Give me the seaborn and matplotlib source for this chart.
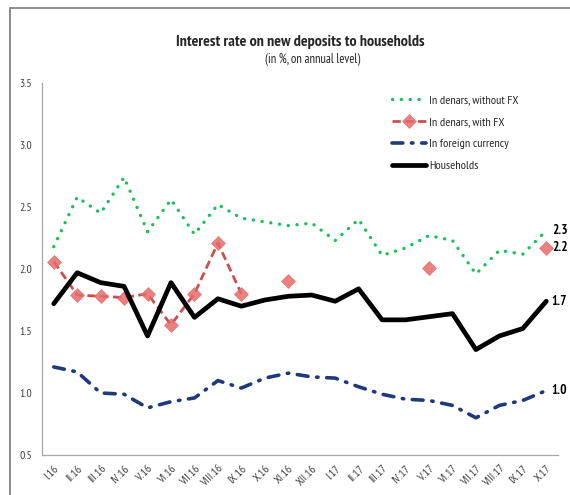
import numpy as np
import pandas as pd
import matplotlib
matplotlib.use("Agg")
import matplotlib.pyplot as plt
from matplotlib.lines import Line2D
import seaborn as sns

# data
months = ["I.16", "II.16", "III.16", "IV.16", "V.16", "VI.16", "VII.16", "VIII.16",
          "IX.16", "X.16", "XI.16", "XII.16", "I.17", "II.17", "III.17", "IV.17",
          "V.17", "VI.17", "VII.17", "VIII.17", "IX.17", "X.17"]
without_fx = [2.18, 2.58, 2.45, 2.74, 2.30, 2.56, 2.28, 2.52, 2.41, 2.38, 2.35,
              2.37, 2.23, 2.40, 2.11, 2.17, 2.27, 2.23, 1.96, 2.15, 2.12, 2.31]
with_fx = [2.06, 1.79, 1.78, 1.77, 1.80, 1.55, 1.80, 2.21, 1.80, np.nan, 1.90,
           np.nan, np.nan, np.nan, np.nan, np.nan, 2.01, np.nan, np.nan, np.nan,
           np.nan, 2.17]
foreign = [1.21, 1.17, 1.00, 0.99, 0.88, 0.93, 0.96, 1.10, 1.04, 1.12, 1.16,
           1.13, 1.12, 1.05, 0.99, 0.95, 0.94, 0.90, 0.80, 0.90, 0.94, 1.02]
households = [1.72, 1.97, 1.89, 1.86, 1.46, 1.89, 1.61, 1.76, 1.70, 1.75, 1.78,
              1.79, 1.74, 1.84, 1.59, 1.59, 1.615, 1.64, 1.35, 1.46, 1.52, 1.74]
end_labels = {"without": "2.3", "with": "2.2", "households": "1.7", "foreign": "1.0"}

df = pd.DataFrame({"x": np.arange(len(months)), "without": without_fx,
                   "with": with_fx, "foreign": foreign, "households": households})

sns.set_style("white")
plt.rcParams["font.family"] = ["PT Sans Narrow", "DejaVu Sans"]

fig = plt.figure(figsize=(5.7, 4.95), dpi=100)
ax = fig.add_axes([42 / 570, 1 - 455 / 495, 516 / 570, 372 / 495])

# chart border, only left and top visible (rest is cut off in the original)
x0, y0 = 10 / 570, 1 - 8 / 495
fig.add_artist(Line2D([x0, x0], [0, y0], transform=fig.transFigure, color="#8c8c8c", lw=1.4))
fig.add_artist(Line2D([x0, 1], [y0, y0], transform=fig.transFigure, color="#8c8c8c", lw=1.4))

green = "#1cc05a"
red = "#c9504f"
navy = "#1f3a7a"

sns.lineplot(data=df, x="x", y="without", ax=ax, color=green, linewidth=2.4,
             linestyle=(0, (0.05, 2.6)), dash_capstyle="round")
h_green = ax.lines[-1]

# red series has gaps: draw each consecutive run separately
seg = df["with"].isna().cumsum()
red_sub = df[df["with"].notna()].assign(seg=seg[df["with"].notna()])
h_red = None
for _, run in red_sub.groupby("seg"):
    sns.lineplot(data=run, x="x", y="with", ax=ax, color=red, linewidth=2.0,
                 linestyle=(0, (3.0, 1.6)), marker="D", markersize=7,
                 markerfacecolor=(0.90, 0.42, 0.42, 0.85),
                 markeredgecolor=(0.90, 0.42, 0.42, 0.85), markeredgewidth=0.5)
    if h_red is None:
        h_red = ax.lines[-1]

sns.lineplot(data=df, x="x", y="foreign", ax=ax, color=navy, linewidth=2.6,
             linestyle=(0, (3.0, 2.4, 0.4, 2.4)), dash_capstyle="round")
h_navy = ax.lines[-1]

sns.lineplot(data=df, x="x", y="households", ax=ax, color="black", linewidth=3.4)
h_black = ax.lines[-1]

# end-of-series value labels
last = len(months) - 1
for key, txt in end_labels.items():
    ax.annotate(txt, (last, df[key].iloc[-1]), xytext=(4, 0), textcoords="offset points",
                ha="left", va="center", fontsize=9.5, fontweight="bold",
                color="black", annotation_clip=False)

ax.set_xlim(-0.5, len(months) - 0.5)
ax.set_ylim(0.5, 3.5)
ax.set_yticks(np.arange(0.5, 3.51, 0.5))
ax.set_yticklabels([f"{v:.1f}" for v in np.arange(0.5, 3.51, 0.5)])
ax.set_xticks(np.arange(len(months)))
ax.set_xticklabels(months, rotation=45, ha="right", va="top", rotation_mode="anchor")
ax.set_xticks(np.arange(-0.5, len(months)), minor=True)
ax.tick_params(axis="x", which="major", length=0, pad=6, labelsize=8.5, labelcolor="#404040")
ax.tick_params(axis="x", which="minor", length=4, width=0.8, color="#a6a6a6", direction="out")
ax.tick_params(axis="y", length=4, width=0.8, color="#a6a6a6", direction="out",
               pad=3, labelsize=8.5, labelcolor="#404040")
ax.set_xlabel("")
ax.set_ylabel("")
sns.despine(ax=ax)
for s in ["left", "bottom"]:
    ax.spines[s].set_color("#a6a6a6")
    ax.spines[s].set_linewidth(0.9)

fig.text(300 / 570, 1 - 42 / 495, "Interest rate on new deposits to households",
         ha="center", va="center", fontsize=11.5, fontweight="bold")
fig.text(313 / 570, 1 - 60 / 495, "(in %, on annual level)",
         ha="center", va="center", fontsize=9)

ax.legend([h_green, h_red, h_navy, h_black],
          ["In denars, without FX", "In denars, with FX", "In foreign currency", "Households"],
          loc="upper left", bbox_to_anchor=(392 / 570, 1 - 95 / 495),
          bbox_transform=fig.transFigure, frameon=False, fontsize=8.7,
          handlelength=2.8, handletextpad=0.3, labelspacing=0.95,
          borderpad=0, borderaxespad=0)

fig.savefig("out.png", dpi=100)
